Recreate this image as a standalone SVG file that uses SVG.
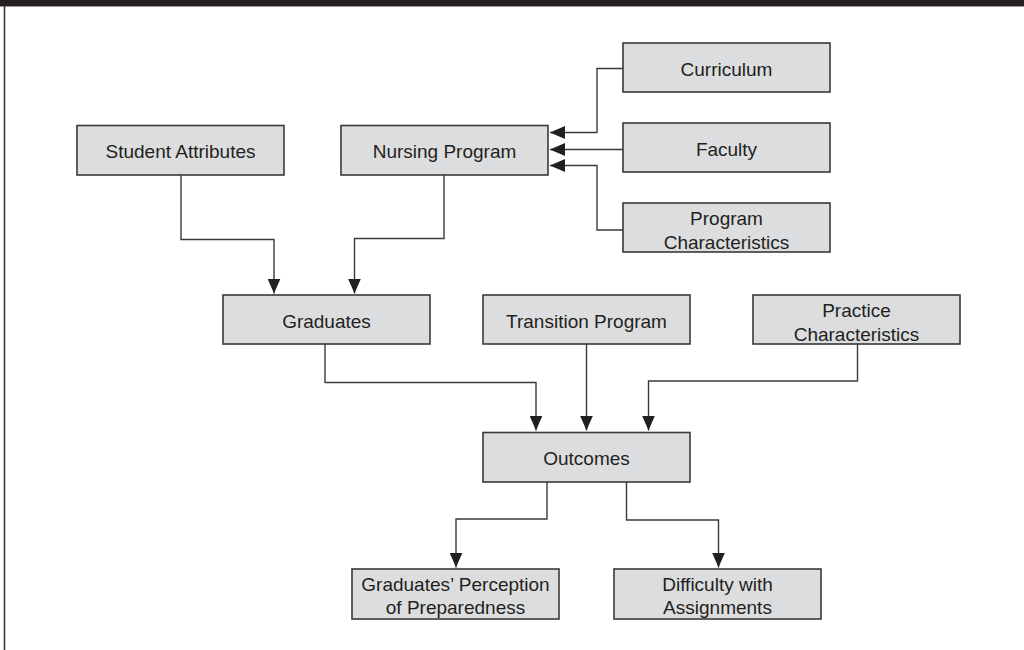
<svg xmlns="http://www.w3.org/2000/svg" width="1024" height="650" viewBox="0 0 1024 650">
<defs>
<style>
.box{fill:#dcdddf;stroke:#3a3a3a;stroke-width:1.6}
.lbl{font-family:"Liberation Sans",Arial,sans-serif;font-size:19px;fill:#231f20;text-anchor:middle}
.con{fill:none;stroke:#3a3a3a;stroke-width:1.4;marker-end:url(#ah)}
</style>
<marker id="ah" markerUnits="userSpaceOnUse" markerWidth="15" markerHeight="13" refX="15" refY="6.5" orient="auto">
<path d="M0,0 L15,6.5 L0,13 Z" fill="#231f20"/>
</marker>
</defs>
<rect x="0" y="0" width="1024" height="6" fill="#231f20"/>
<rect x="0" y="6" width="1024" height="1" fill="#9a9a9a"/>
<line x1="4.5" y1="6" x2="4.5" y2="650" stroke="#3a3a3a" stroke-width="1.6"/>

<g id="connectors">
<path class="con" d="M623,68.5 H597 V132.5 H550"/>
<path class="con" d="M623,149.5 H550"/>
<path class="con" d="M623,230 H597 V165.5 H550"/>
<path class="con" d="M181,175 V239.5 H274 V293.5"/>
<path class="con" d="M444,175 V238.5 H354.5 V293.5"/>
<path class="con" d="M325,344 V382.5 H536 V430.5"/>
<path class="con" d="M586.5,344 V430.5"/>
<path class="con" d="M857.5,344 V381 H648.5 V430.5"/>
<path class="con" d="M547,482 V519 H456 V567.5"/>
<path class="con" d="M626.5,482 V520 H718.5 V567.5"/>
</g>

<g id="curriculum"><rect class="box" x="623" y="43" width="207" height="49"/><text class="lbl" x="726.5" y="75.5">Curriculum</text></g>
<g id="faculty"><rect class="box" x="623" y="123" width="207" height="49"/><text class="lbl" x="726.5" y="155.5">Faculty</text></g>
<g id="program-characteristics"><rect class="box" x="623" y="203" width="207" height="49"/><text class="lbl" x="726.5" y="224.5">Program</text><text class="lbl" x="726.5" y="248.5">Characteristics</text></g>
<g id="student-attributes"><rect class="box" x="77" y="125.5" width="207" height="49.5"/><text class="lbl" x="180.5" y="158">Student Attributes</text></g>
<g id="nursing-program"><rect class="box" x="341" y="125.5" width="207" height="49.5"/><text class="lbl" x="444.5" y="158">Nursing Program</text></g>
<g id="graduates"><rect class="box" x="223" y="295" width="207" height="49"/><text class="lbl" x="326.5" y="327.5">Graduates</text></g>
<g id="transition-program"><rect class="box" x="483" y="295" width="207" height="49"/><text class="lbl" x="586.5" y="327.5">Transition Program</text></g>
<g id="practice-characteristics"><rect class="box" x="753" y="295" width="207" height="49"/><text class="lbl" x="856.5" y="317">Practice</text><text class="lbl" x="856.5" y="341">Characteristics</text></g>
<g id="outcomes"><rect class="box" x="483" y="432.5" width="207" height="49.5"/><text class="lbl" x="586.5" y="465">Outcomes</text></g>
<g id="perception"><rect class="box" x="352" y="569" width="207" height="50"/><text class="lbl" x="455.5" y="591">Graduates’ Perception</text><text class="lbl" x="455.5" y="614">of Preparedness</text></g>
<g id="difficulty"><rect class="box" x="614" y="569" width="207" height="50"/><text class="lbl" x="717.5" y="591">Difficulty with</text><text class="lbl" x="717.5" y="614">Assignments</text></g>
</svg>
